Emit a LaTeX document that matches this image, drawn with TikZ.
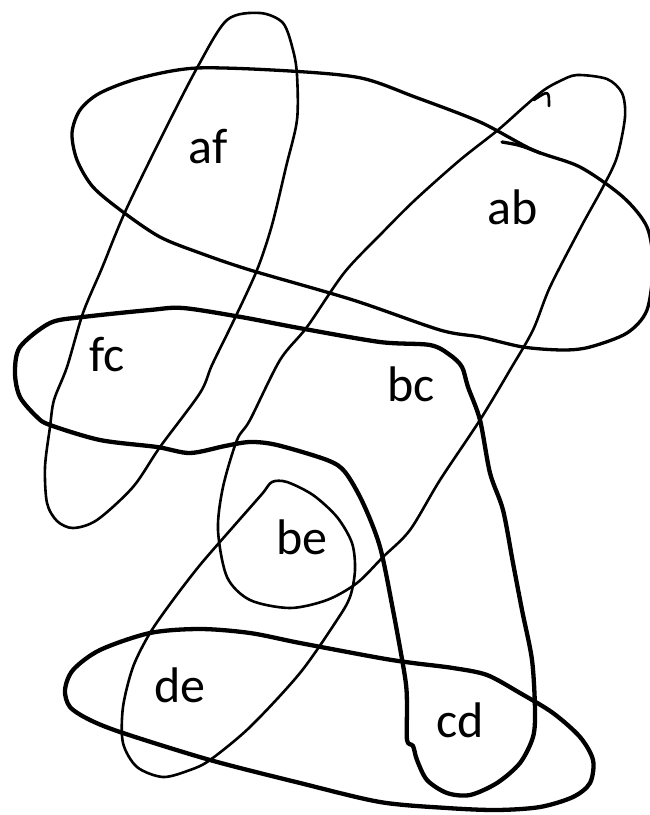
\documentclass[tikz,border=0pt]{standalone}
\usepackage{fontspec}
\setmainfont{Carlito}
\tikzset{
  thinloop/.style={line width=2.6pt, line join=round, line cap=round},
  midloop/.style={line width=3.3pt, line join=round, line cap=round},
  thickloop/.style={line width=4.3pt, line join=round, line cap=round},
  lbl/.style={inner sep=0pt, font=\fontsize{50}{52}\selectfont}
}
\begin{document}
\begin{tikzpicture}[x=1pt, y=-1pt]
    \useasboundingbox (0,0) rectangle (650,815);

    % Loop a (large tilted ellipse)
    \draw[midloop] plot[smooth cycle] coordinates {
      (72,133) (80,110) (100,93) (140,78) (197,68) (290,71) (361,78)
      (415,97) (480,122) (533,150) (580,167) (623,197) (647,227)
      (653,265) (647,310) (627,333) (590,347) (563,350) (523,347)
      (480,337) (440,330) (353,300) (250,270) (200,253) (160,237)
      (123,212) (93,187) (77,160)};
    % overlap where the stroke of a began
    \draw[midloop] (502,142) .. controls (520,145) .. (540,153);

    % Loop f (tall narrow loop on the left)
    \draw[thinloop] plot[smooth cycle] coordinates {
      (227,20) (260,13) (283,23) (293,50) (297,75) (297,120) (286,167)
      (272,225) (257,270) (234,320) (212,365) (200,393) (160,447)
      (133,487) (97,520) (73,528) (57,521) (47,503) (45,467) (50,427)
      (54,400) (67,367) (83,313) (102,268) (125,212) (160,140) (197,68)};

    % Loop b (long diagonal loop)
    \draw[thinloop] plot[smooth cycle] coordinates {
      (544,90) (560,81) (577,75) (607,79) (622,93) (625,117) (617,157)
      (603,187) (581,227) (550,287) (533,330) (510,370) (480,420)
      (440,480) (410,530) (383,557) (357,583) (327,600) (290,608)
      (250,600) (227,577) (218,530) (223,487) (237,440) (250,420)
      (280,360) (307,327) (344,273) (380,235) (415,200) (460,160)
      (498,130) (525,106)};
    % small hook at the top of b
    \draw[thinloop] (534,100) .. controls (549,90) .. (549,106);

    % Loop c (thick wavy loop)
    \draw[thickloop] plot[smooth cycle] coordinates {
      (15,373) (20,347) (50,323) (83,317) (150,310) (183,308) (241,317)
      (299,328) (380,342) (430,345) (450,355) (462,367) (468,387)
      (480,420) (490,473) (503,510) (513,563) (522,610) (532,660)
      (535,710) (533,737) (520,763) (497,783) (470,795) (447,793)
      (427,780) (417,760) (413,746) (407,740) (407,703) (405,677)
      (393,610) (380,547) (363,503) (345,472) (327,460) (277,445)
      (250,442) (225,446) (190,453) (157,447) (100,440) (50,425)
      (37,417) (20,397)};

    % Loop e (around be and de)
    \draw[thinloop] plot[smooth cycle] coordinates {
      (272,482) (287,482) (313,495) (337,517) (352,543) (355,570)
      (350,597) (337,620) (300,673) (250,727) (210,760) (190,770)
      (163,777) (137,767) (123,743) (123,707) (133,667) (150,633)
      (173,600) (200,565) (233,527) (262,494)};

    % Loop d (bottom ellipse)
    \draw[thickloop] plot[smooth cycle] coordinates {
      (65,690) (73,670) (100,650) (150,633) (200,629) (250,633) (300,643)
      (380,658) (413,663) (453,668) (487,675) (520,693) (553,713)
      (580,737) (593,760) (590,783) (573,797) (540,807) (497,810)
      (447,808) (380,802) (300,783) (210,760) (123,733) (90,720)
      (70,707)};

    % Labels
    \node[lbl] (af) at (208,147) {af};
    \node[lbl] (ab) at (513,207) {ab};
    \node[lbl] (fc) at (107,355) {fc};
    \node[lbl] (bc) at (411,384) {bc};
    \node[lbl] (be) at (302,537) {be};
    \node[lbl] (de) at (180,685) {de};
    \node[lbl] (cd) at (460,720) {cd};
\end{tikzpicture}
\end{document}
